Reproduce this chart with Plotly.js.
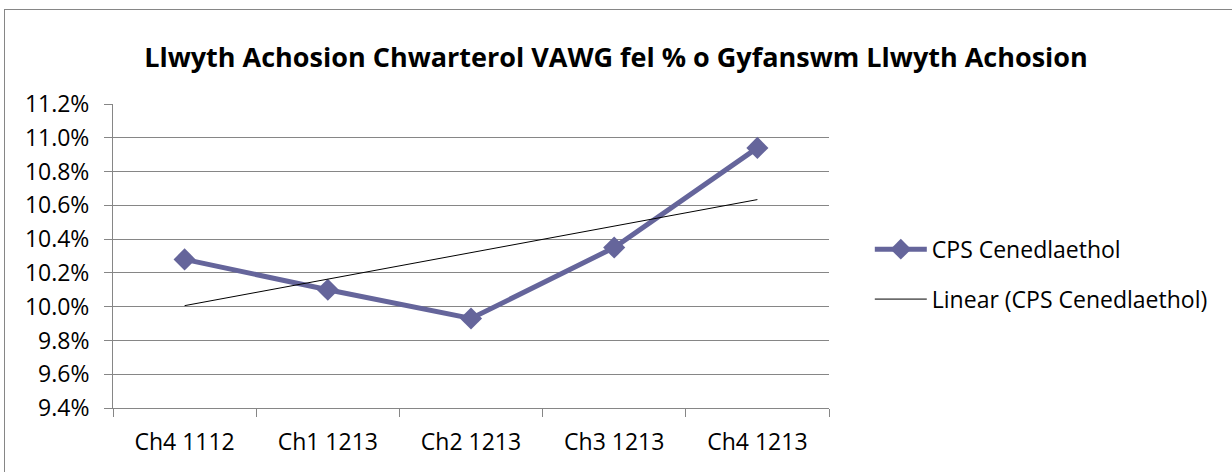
<!DOCTYPE html>
<html>
<head>
<meta charset="utf-8">
<script src="https://cdn.plot.ly/plotly-3.0.1.min.js"></script>
<style>
  html, body { margin: 0; padding: 0; background: #fff; }
  #wrap { position: relative; width: 1232px; height: 472px; overflow: hidden; }
  #chart { position: absolute; left: 0; top: 0; width: 1232px; height: 472px; }
  #frame { position: absolute; left: 4px; top: 9px; width: 1240px; height: 480px;
           border-top: 1.5px solid #868686; border-left: 1.5px solid #868686; pointer-events: none; }
</style>
</head>
<body>
<div id="wrap"><div id="chart"></div><div id="frame"></div></div>
<script>
const chartTitle = "Llwyth Achosion Chwarterol VAWG fel % o Gyfanswm Llwyth Achosion";
const categories = ["Ch4 1112", "Ch1 1213", "Ch2 1213", "Ch3 1213", "Ch4 1213"];
const seriesName = "CPS Cenedlaethol";
const seriesValues = [10.28, 10.10, 9.93, 10.35, 10.94];
const trendName = "Linear (CPS Cenedlaethol)";

// least-squares linear trendline from the series (as in the original chart)
function linearTrend(vals) {
  const n = vals.length;
  let sx = 0, sy = 0, sxy = 0, sxx = 0;
  vals.forEach((v, i) => { sx += i; sy += v; sxy += i * v; sxx += i * i; });
  const m = (n * sxy - sx * sy) / (n * sxx - sx * sx);
  const b = (sy - m * sx) / n;
  return vals.map((_, i) => b + m * i);
}
const trendValues = linearTrend(seriesValues);

const font = "'Open Sans', Lato, sans-serif";
const purple = "#65659b";
const grid = "#868686";

const traces = [
  {
    x: categories, y: seriesValues, name: seriesName, type: "scatter", mode: "lines+markers",
    line: { color: purple, width: 5 },
    marker: { symbol: "diamond", size: 17, color: purple },
    legendgroup: "a"
  },
  {
    x: categories, y: trendValues, name: trendName, type: "scatter", mode: "lines",
    line: { color: "#000000", width: 1 },
    legendgroup: "b"
  }
];

const layout = {
  width: 1232, height: 472,
  paper_bgcolor: "#ffffff", plot_bgcolor: "#ffffff",
  margin: { l: 113, r: 403, t: 104, b: 64, pad: 0 },
  font: { family: font, size: 23, color: "#000" },
  title: { text: chartTitle, font: { family: font, size: 27, color: "#000", weight: "bold" },
           x: 0.5, xref: "container", xanchor: "center", y: 0.879, yref: "container", yanchor: "middle" },
  xaxis: {
    type: "category", range: [-0.5, 4.5], showgrid: false, zeroline: false,
    showline: true, linecolor: grid, linewidth: 1,
    ticks: "outside", tickson: "boundaries", ticklen: 8, tickcolor: grid,
    ticklabelstandoff: 13,
    tickfont: { family: font, size: 23, color: "#000" }
  },
  yaxis: {
    range: [9.4, 11.2], dtick: 0.2, tick0: 9.4, tickformat: ".1f", ticksuffix: "%",
    showgrid: true, gridcolor: grid, gridwidth: 1, zeroline: false,
    showline: true, linecolor: grid, linewidth: 1,
    ticks: "outside", ticklen: 8, tickcolor: grid,
    ticklabelstandoff: 10,
    tickfont: { family: font, size: 23, color: "#000" }
  },
  legend: {
    x: 1.057, xanchor: "left", y: 0.44, yanchor: "middle",
    font: { family: font, size: 23, color: "#000" },
    tracegroupgap: 17, itemwidth: 52, bgcolor: "rgba(0,0,0,0)"
  },
  showlegend: true
};

Plotly.newPlot("chart", traces, layout, { displayModeBar: false, staticPlot: true });
</script>
</body>
</html>
